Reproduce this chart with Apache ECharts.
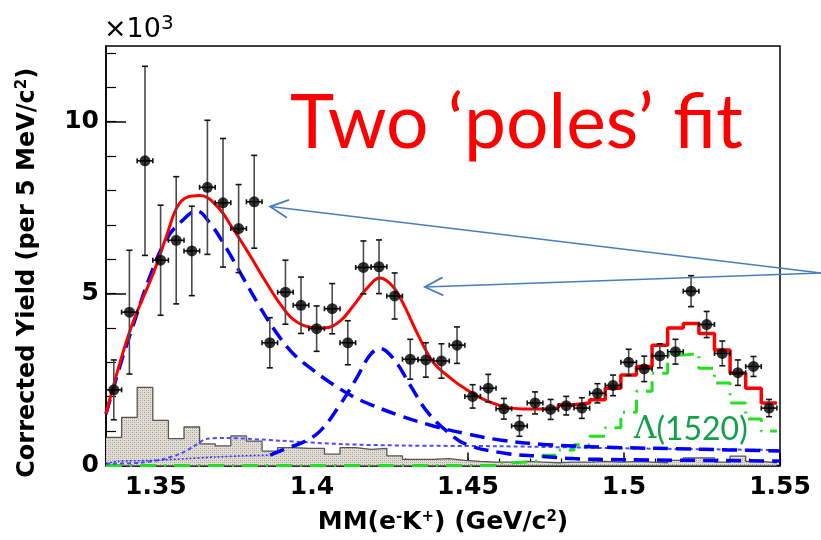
<!DOCTYPE html>
<html><head><meta charset="utf-8">
<script src="https://cdn.jsdelivr.net/npm/echarts@6/dist/echarts.min.js"></script>
<style>html,body{margin:0;padding:0;background:#fff}#c{width:821px;height:540px}</style>
</head><body><div id="c"></div>
<script>
// ---- data (yield in units of 10^3) ----
const binCenters = [1.3365,1.3415,1.3465,1.3515,1.3565,1.3615,1.3665,1.3715,1.3765,1.3815,
  1.3865,1.3915,1.3965,1.4015,1.4065,1.4115,1.4165,1.4215,1.4265,1.4315,
  1.4365,1.4415,1.4465,1.4515,1.4565,1.4615,1.4665,1.4715,1.4765,1.4815,
  1.4865,1.4915,1.4965,1.5015,1.5065,1.5115,1.5165,1.5215,1.5265,1.5315,
  1.5365,1.5415,1.5465];
const yieldValues = [2.2,4.46,8.86,5.97,6.55,6.24,8.09,7.64,6.89,7.67,
  3.57,5.04,4.66,3.98,4.56,3.57,5.76,5.78,4.93,3.09,
  3.07,3.04,3.5,2.01,2.25,1.65,1.15,1.82,1.63,1.74,
  1.67,2.1,2.33,3.0,2.81,3.19,3.31,5.07,4.1,3.26,
  2.7,2.88,1.67];
const yieldErrors = [0.87,1.8,2.75,1.6,1.85,1.3,1.95,1.87,1.28,1.35,
  0.73,0.93,0.82,0.66,0.73,0.64,0.77,0.78,0.67,0.58,
  0.5,0.5,0.53,0.34,0.4,0.3,0.3,0.32,0.29,0.27,
  0.3,0.28,0.3,0.38,0.37,0.35,0.36,0.45,0.38,0.36,
  0.37,0.29,0.25];
const bgHist = [0.82,1.4,2.27,1.31,0.78,1.12,0.63,0.57,0.86,0.71,
  0.42,0.52,0.5,0.5,0.33,0.52,0.47,0.5,0.28,0.18,
  0.18,0.2,0.15,0.12,0.1,0.1,0.12,0.1,0.08,0.1,
  0.1,0.12,0.1,0.12,0.1,0.08,0.15,0.22,0.22,0.1,
  0.27,0.12,0.08];
const lambda1520 = [0,0,0,0,0,0,0,0,0,0,
  0,0,0,0,0,0,0,0,0,0,
  0,0,0,0,0,0.08,0.1,0.15,0.3,0.45,
  0.6,0.85,1.1,1.55,2.16,2.68,3.21,3.26,2.83,2.4,
  1.82,1.35,1.0];
const fitStep = [null,null,null,null,null,null,null,null,null,null,
  null,null,null,null,null,null,null,null,null,null,
  null,null,null,null,null,null,null,null,null,1.77,
  1.82,1.91,2.25,2.63,2.88,3.5,4.0,4.13,3.84,3.36,
  2.68,2.25,1.82];
const fitCurveX = [1.334,1.3385,1.3428,1.3492,1.3535,1.3567,1.3599,1.3641,1.3695,1.3748,
  1.3802,1.3855,1.3898,1.394,1.399,1.404,1.409,1.4133,1.4176,1.4218,
  1.426,1.4293,1.434,1.4389,1.4443,1.4496,1.455,1.4603,1.466,1.4731,1.479];
const fitCurveY = [1.5,3.0,4.2,5.6,6.7,7.5,7.8,7.85,7.55,6.87,
  6.1,5.3,4.7,4.25,4.03,4.0,4.2,4.65,5.15,5.45,
  5.2,4.7,3.8,3.0,2.55,2.2,1.92,1.74,1.65,1.64,1.67];
const pole1X = [1.334,1.3385,1.3428,1.3481,1.3535,1.3588,1.3631,1.3673,1.3727,1.378,
  1.3834,1.3887,1.394,1.4,1.4069,1.4133,1.4186,1.4282,1.4389,1.4496,
  1.4603,1.4731,1.4838,1.4945,1.5254,1.55];
const pole1Y = [1.5,2.9,4.1,5.5,6.6,7.15,7.4,7.05,6.3,5.45,
  4.6,3.85,3.25,2.8,2.35,2.0,1.78,1.45,1.15,0.92,
  0.74,0.62,0.57,0.53,0.47,0.42];
const pole2X = [1.3866,1.3919,1.3972,1.4026,1.409,1.4143,1.4186,1.4218,1.426,1.4314,
  1.4368,1.4432,1.4496,1.4624,1.4731,1.4838,1.5,1.55];
const pole2Y = [0.3,0.5,0.68,1.0,1.77,2.54,3.21,3.4,3.12,2.35,
  1.58,1.0,0.61,0.35,0.27,0.2,0.17,0.13];
const pole2TailX = [1.334,1.3375,1.35,1.36,1.3695,1.378,1.3866];
const pole2TailY = [0.05,0.12,0.15,0.2,0.25,0.28,0.3];
const otherX = [1.334,1.345,1.352,1.358,1.362,1.3665,1.372,1.39,1.41,1.43,1.46,1.5,1.55];
const otherY = [0.05,0.08,0.18,0.35,0.55,0.78,0.8,0.72,0.62,0.58,0.56,0.5,0.45];
const xTickValues = [1.35,1.4,1.45,1.5,1.55];
const xTickLabels = ['1.35','1.4','1.45','1.5','1.55'];
const xMinorTicks = [1.34,1.35,1.36,1.37,1.38,1.39,1.4,1.41,1.42,1.43,1.44,1.45,1.46,1.47,1.48,1.49,1.5,1.51,1.52,1.53,1.54,1.55];
const yTickValues = [0,5,10];
const yTickLabels = ['0','5','10'];
const yMinorTicks = [0,1,2,3,4,5,6,7,8,9,10,11,12];
const X_MIN = 1.334, X_MAX = 1.55, Y_MAX = 12.2;

// ---- helpers ----
const half = 0.0025;
function stepData(vals){
  const out=[]; let last=null;
  vals.forEach((v,i)=>{ if(v!==null){ out.push([binCenters[i]-half, v]); last=i; } });
  out.push([binCenters[last]+half, vals[last]]);
  return out;
}
const zip = (a,b)=>a.map((v,i)=>[v,b[i]]);

const pc = document.createElement('canvas'); pc.width=4; pc.height=4;
const g2 = pc.getContext('2d');
g2.fillStyle='#e2ded6'; g2.fillRect(0,0,4,4);
g2.fillStyle='#a39d93'; g2.fillRect(0,0,1,1); g2.fillRect(2,2,1,1);
g2.fillStyle='#bfbab1'; g2.fillRect(2,0,1,1); g2.fillRect(0,2,1,1);

const chart = echarts.init(document.getElementById('c'), null, {renderer:'canvas'});
const AX = {fontFamily:'DejaVu Sans', fontWeight:'bold', color:'#000'};
const hidden = {show:false};
const fitStepData = [[fitCurveX[fitCurveX.length-1], fitCurveY[fitCurveY.length-1]]].concat(stepData(fitStep));

const option = {
  animation:false,
  backgroundColor:'#fff',
  grid:{left:106, top:46, width:674, height:422, show:true, borderColor:'#000', borderWidth:1.5, backgroundColor:'transparent'},
  xAxis:[
    {type:'value', min:X_MIN, max:X_MAX, position:'bottom',
     axisLine:{show:true, onZero:false, lineStyle:{color:'#000', width:1.5}},
     axisTick:{show:true, inside:true, length:13, customValues:xTickValues, lineStyle:{color:'#000', width:1.5}},
     axisLabel:{customValues:xTickValues, margin:9, fontSize:25, ...AX,
       formatter:(v)=>{const i=xTickValues.findIndex(t=>Math.abs(t-v)<1e-6); return i>=0?xTickLabels[i]:'';}},
     splitLine:hidden,
     name:'MM(e{s|-}K{s|+}) (GeV/c{s|2})', nameLocation:'middle', nameGap:44,
     nameTextStyle:{fontSize:25, ...AX, rich:{s:{fontSize:15, ...AX, verticalAlign:'top', padding:[0,0,11,0]}}}},
    {type:'value', min:X_MIN, max:X_MAX, position:'bottom',
     axisLine:hidden, axisTick:{show:true, inside:true, length:7, customValues:xMinorTicks, lineStyle:{color:'#000', width:1.2}},
     axisLabel:hidden, splitLine:hidden},
    {type:'value', min:X_MIN, max:X_MAX, position:'bottom', interval:0.002,
     axisLine:hidden, axisTick:{show:true, inside:true, length:3, lineStyle:{color:'#000', width:1}},
     axisLabel:hidden, splitLine:hidden}
  ],
  yAxis:[
    {type:'value', min:0, max:Y_MAX, position:'left',
     axisLine:{show:true, lineStyle:{color:'#000', width:1.5}},
     axisTick:{show:true, inside:true, length:20, customValues:yTickValues, lineStyle:{color:'#000', width:1.5}},
     axisLabel:{customValues:yTickValues, margin:7, fontSize:25, ...AX,
       formatter:(v)=>{const i=yTickValues.findIndex(t=>Math.abs(t-v)<1e-6); return i>=0?yTickLabels[i]:'';}},
     splitLine:hidden,
     name:'Corrected Yield (per 5 MeV/c{s|2})', nameLocation:'middle', nameGap:66,
     nameTextStyle:{fontSize:24, ...AX, padding:[0,34,0,0], rich:{s:{fontSize:15, ...AX, verticalAlign:'top', padding:[0,0,10,0]}}}},
    {type:'value', min:0, max:Y_MAX, position:'left', offset:0,
     axisLine:hidden, axisTick:{show:true, inside:true, length:10, customValues:yMinorTicks, lineStyle:{color:'#000', width:1.2}},
     axisLabel:hidden, splitLine:hidden}
  ],
  series:[
    {name:'background', type:'line', step:'end', data:stepData(bgHist), symbol:'none', z:1,
     lineStyle:{color:'#555', width:1.3}, areaStyle:{color:{image:pc, repeat:'repeat'}, opacity:1}},
    {name:'Lambda(1520)', type:'line', step:'end', data:stepData(lambda1520), symbol:'none', z:2,
     lineStyle:{color:'#22e022', width:3, type:[16,8,2,8]}},
    {name:'other', type:'line', data:zip(otherX,otherY), smooth:0.3, symbol:'none', z:3,
     lineStyle:{color:'#4a4aff', width:2, type:[4,3]}},
    {name:'pole2 tail', type:'line', data:zip(pole2TailX,pole2TailY), smooth:0.3, symbol:'none', z:3,
     lineStyle:{color:'#3030ff', width:1.6, type:[2,2]}},
    {name:'pole 1', type:'line', data:zip(pole1X,pole1Y), smooth:0.4, symbol:'none', z:4,
     lineStyle:{color:'#0000ff', width:3.5, type:[15,8]}},
    {name:'pole 2', type:'line', data:zip(pole2X,pole2Y), smooth:0.4, symbol:'none', z:4,
     lineStyle:{color:'#0000ff', width:3.5, type:[15,8]}},
    {name:'fit', type:'line', data:zip(fitCurveX,fitCurveY), smooth:0.4, symbol:'none', z:5,
     lineStyle:{color:'#ff0000', width:3}},
    {name:'fit step', type:'line', step:'end', data:fitStepData, symbol:'none', z:5,
     lineStyle:{color:'#ff0000', width:3.5}},
    {name:'errors', type:'custom', z:6, silent:true,
     data: binCenters.map((x,i)=>[x, yieldValues[i], yieldErrors[i]]),
     encode:{x:0, y:1},
     renderItem:(params, api)=>{
       const x=api.value(0), y=api.value(1), e=api.value(2);
       const c=api.coord([x,y]), t=api.coord([x,y+e]), b=api.coord([x,y-e]);
       const l=api.coord([x-half,y]), r=api.coord([x+half,y]);
       const st={stroke:'#4a4a4a', lineWidth:1.6};
       const cap={stroke:'#111', lineWidth:1.6};
       return {type:'group', children:[
         {type:'line', shape:{x1:c[0],y1:t[1],x2:c[0],y2:b[1]}, style:st},
         {type:'line', shape:{x1:c[0]-3,y1:t[1],x2:c[0]+3,y2:t[1]}, style:cap},
         {type:'line', shape:{x1:c[0]-3,y1:b[1],x2:c[0]+3,y2:b[1]}, style:cap},
         {type:'line', shape:{x1:l[0],y1:c[1],x2:r[0],y2:c[1]}, style:cap},
         {type:'line', shape:{x1:l[0],y1:c[1]-2.5,x2:l[0],y2:c[1]+2.5}, style:cap},
         {type:'line', shape:{x1:r[0],y1:c[1]-2.5,x2:r[0],y2:c[1]+2.5}, style:cap}
       ]};
     }},
    {name:'data', type:'scatter', z:7, data:zip(binCenters,yieldValues), symbol:'circle', symbolSize:11,
     itemStyle:{color:'#000'}}
  ]
};
chart.setOption(option);

// annotations
const arrowColor = '#4a7ebb';
const arrowFrom = [821, 273];
const arrowTips = [[1.3866, 7.53], [1.4362, 5.19]];
const graphics = [];
arrowTips.forEach((tp,k)=>{
  const p = chart.convertToPixel({xAxisIndex:0, yAxisIndex:0}, tp);
  const dx = arrowFrom[0]-p[0], dy = arrowFrom[1]-p[1], L = Math.hypot(dx,dy);
  const ux = dx/L, uy = dy/L, hl = 18, hw = 9;
  graphics.push({type:'line', z:20, shape:{x1:arrowFrom[0], y1:arrowFrom[1], x2:p[0], y2:p[1]}, style:{stroke:arrowColor, lineWidth:1.5}});
  graphics.push({type:'polyline', z:20, shape:{points:[
    [p[0]+ux*hl-uy*hw, p[1]+uy*hl+ux*hw], [p[0],p[1]], [p[0]+ux*hl+uy*hw, p[1]+uy*hl-ux*hw]]},
    style:{stroke:arrowColor, lineWidth:1.8, fill:null}});
});
graphics.push({type:'text', z:20, x:104, y:30, style:{text:'×10{s|3}', fontFamily:'DejaVu Sans', fontSize:27, fill:'#000',
  verticalAlign:'middle', rich:{s:{fontFamily:'DejaVu Sans', fontSize:20, fill:'#000', verticalAlign:'top', padding:[0,0,12,0]}}}});
graphics.push({type:'text', z:20, x:290, y:124, style:{text:'Two ‘poles’ fit', fontFamily:'Lato', fontSize:75, fill:'#ff0000', verticalAlign:'middle'}});
graphics.push({type:'text', z:20, x:634, y:430, style:{text:'{a|Λ}{b|(1520)}', verticalAlign:'middle',
  rich:{a:{fontFamily:'DejaVu Serif', fontSize:31, fill:'#12a04a'}, b:{fontFamily:'Lato', fontSize:32, fill:'#12a04a'}}}});
chart.setOption({graphic:graphics});
</script></body></html>
